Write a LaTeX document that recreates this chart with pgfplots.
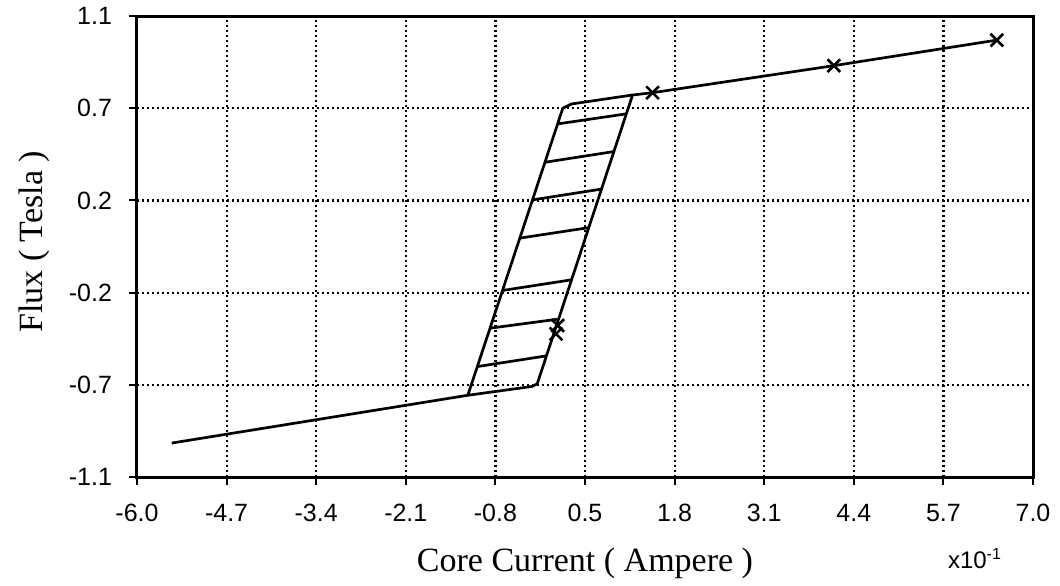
\documentclass[border=0pt]{standalone}
\usepackage{pgfplots}
\pgfplotsset{compat=1.18}
\usepackage{fontspec}
\setmainfont{Liberation Serif}
\newfontfamily\sansf{Liberation Sans}
\begin{document}
\begin{tikzpicture}
\begin{axis}[
  scale only axis,
  width=448pt, height=230.5pt,
  xmin=-6, xmax=7, ymin=-1.1, ymax=1.1,
  xtick={-6.0,-4.7,-3.4,-2.1,-0.8,0.5,1.8,3.1,4.4,5.7,7.0},
  xticklabels={-6.0,-4.7,-3.4,-2.1,-0.8,0.5,1.8,3.1,4.4,5.7,7.0},
  ytick={-1.1,-0.66,-0.22,0.22,0.66,1.1},
  yticklabels={-1.1,-0.7,-0.2,0.2,0.7,1.1},
  tick align=outside, tick pos=left, major tick length=4pt,
  tick style={black, line width=1pt},
  axis line style={black, line width=1.5pt},
  grid=major,
  major grid style={black, line width=1.1pt, dash pattern=on 1.2pt off 1.3pt},
  ticklabel style={font=\sansf\fontsize{12.5}{15}\selectfont},
  xticklabel style={yshift=-6pt},
  yticklabel style={xshift=-5pt},
  xlabel={Core Current ( Ampere )},
  ylabel={Flux ( Tesla )},
  label style={font=\fontsize{17}{20}\selectfont},
  xlabel style={at={(axis description cs:0.5,-0.206)}, anchor=base},
  ylabel style={at={(axis description cs:-0.105,0.51)}, anchor=base},
  curve/.style={black, solid, line width=1.35pt, mark=none},
]
% main branch: lower saturation -> right side of loop -> upper saturation
\addplot[curve] coordinates {(-5.496,-0.938) (-1.20,-0.71) (-0.27,-0.668) (-0.193,-0.655) (1.19,0.723) (1.48,0.734) (4.11,0.863) (6.475,0.985)};
% left side of loop
\addplot[curve] coordinates {(-1.20,-0.71) (0.178,0.66) (0.301,0.68) (1.19,0.723)};
% minor loops (hatches)
\addplot[curve] coordinates {(0.103,0.585) (1.10,0.633)};
\addplot[curve] coordinates {(-0.081,0.402) (0.918,0.453)};
\addplot[curve] coordinates {(-0.262,0.2225) (0.739,0.274)};
\addplot[curve] coordinates {(-0.446,0.04) (0.554,0.090)};
\addplot[curve] coordinates {(-0.699,-0.21) (0.304,-0.159)};
\addplot[curve] coordinates {(-0.88,-0.39) (0.10,-0.347)};
\addplot[curve] coordinates {(-1.062,-0.573) (-0.060,-0.522)};
% markers
\addplot[black, only marks, mark=x, mark size=4.5pt, line width=1.3pt] coordinates {(1.48,0.734) (4.11,0.863) (6.475,0.985) (0.104,-0.377) (0.079,-0.417)};
\end{axis}
\node[anchor=base, font=\sansf\fontsize{12}{14}\selectfont] at (419pt,-45.5pt) {x10\textsuperscript{-1}};
\path (-68.5pt,-54pt) rectangle (461.5pt,238.5pt);
\end{tikzpicture}
\end{document}
